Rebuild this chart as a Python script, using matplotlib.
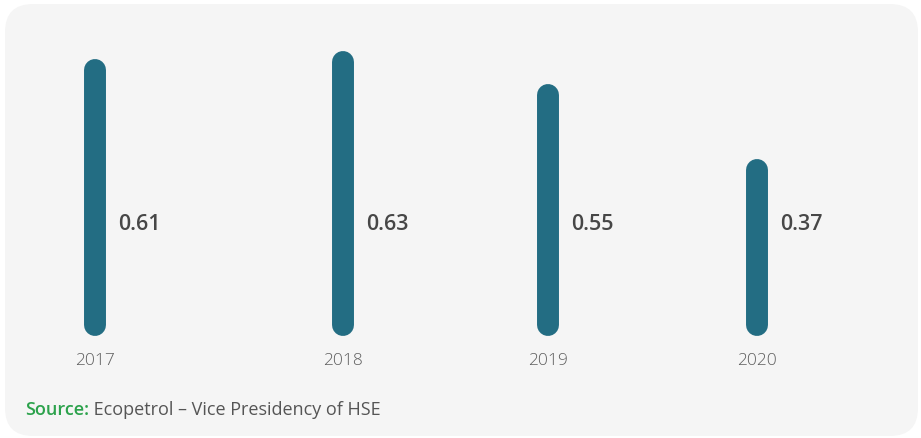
import matplotlib
matplotlib.use("Agg")
import matplotlib.pyplot as plt
from matplotlib.patches import FancyBboxPatch
import numpy as np

years = ["2017", "2018", "2019", "2020"]
values = [0.61, 0.63, 0.55, 0.37]
value_labels = ["0.61", "0.63", "0.55", "0.37"]
source_label = "Source:"
source_text = " Ecopetrol – Vice Presidency of HSE"

# layout (slot positions, not data)
slot_x = [0.0, 1.0, 1.827, 2.67]

BAR = "#236d83"
FONT = "Open Sans"

fig = plt.figure(figsize=(9.21, 4.38), dpi=100)
fig.patch.set_facecolor("white")

panel = FancyBboxPatch((0.05, 0.02), 9.13, 4.32,
                       boxstyle="round,pad=0,rounding_size=0.28",
                       transform=fig.dpi_scale_trans,
                       facecolor="#f5f5f5", edgecolor="none", zorder=-5)
fig.patches.append(panel)

ax = fig.add_axes([0, 113 / 438, 1, 0.668])
ax.set_facecolor("none")
ax.set_xlim(-95 / 248, (921 - 95) / 248)
ax.set_ylim(0, 0.7)
ax.axis("off")

for x, v, lab, yr in zip(slot_x, values, value_labels, years):
    ax.plot([x, x], [0, v], color=BAR, lw=15.8, solid_capstyle="round", zorder=3,
            clip_on=False)
    ax.text(x + 0.093, 0.241, lab, ha="left", va="center", fontsize=15.5,
            fontweight="semibold", color="#474747", family=FONT)
    ax.text(x, -0.085, yr, ha="center", va="center", fontsize=12.5,
            fontweight="light", color="#5e5e5e", family=FONT, clip_on=False)

t = fig.text(25 / 921, (438 - 410) / 438, source_label, ha="left", va="center",
             fontsize=13, fontweight="semibold", color="#2ca24c", family=FONT)
fig.canvas.draw()
bb = t.get_window_extent()
fig.text(bb.x1 / fig.bbox.width, (438 - 410) / 438, source_text, ha="left", va="center",
         fontsize=13, color="#555555", family=FONT)

fig.savefig("out.png", dpi=100, facecolor="white")
